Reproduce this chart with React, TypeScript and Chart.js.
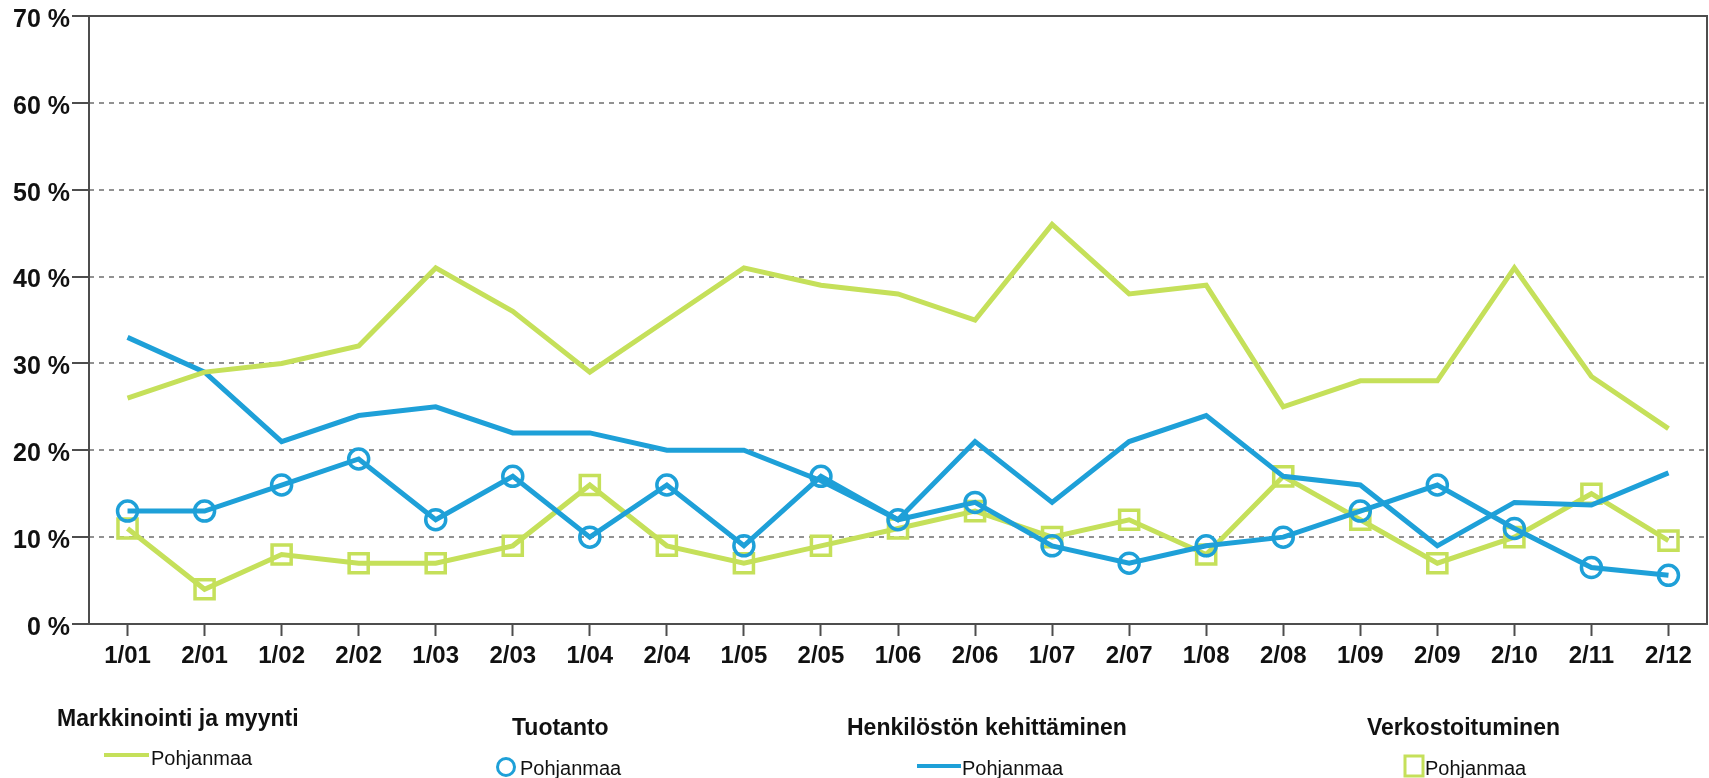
import React, { useEffect, useRef } from 'react';
import { Chart, registerables } from 'chart.js';

Chart.register(...registerables);

const categories = ['1/01', '2/01', '1/02', '2/02', '1/03', '2/03', '1/04', '2/04', '1/05', '2/05', '1/06', '2/06', '1/07', '2/07', '1/08', '2/08', '1/09', '2/09', '2/10', '2/11', '2/12'];

const markkinointi = [26, 29, 30, 32, 41, 36, 29, 35, 41, 39, 38, 35, 46, 38, 39, 25, 28, 28, 41, 28.5, 22.5];
const tuotanto = [13, 13, 16, 19, 12, 17, 10, 16, 9, 17, 12, 14, 9, 7, 9, 10, 13, 16, 11, 6.5, 5.6];
const henkilosto = [33, 29, 21, 24, 25, 22, 22, 20, 20, 16.5, 12, 21, 14, 21, 24, 17, 16, 9, 14, 13.7, 17.4];
const verkostoituminen = [11, 4, 8, 7, 7, 9, 16, 9, 7, 9, 11, 13, 10, 12, 8, 17, 12, 7, 10, 15, 9.6];

const yTicks = [0, 10, 20, 30, 40, 50, 60, 70];

const groupTitles = ['Markkinointi ja myynti', 'Tuotanto', 'Henkilöstön kehittäminen', 'Verkostoituminen'];
const itemLabel = 'Pohjanmaa';

const GREEN = '#c5e05a';
const BLUE = '#1ea0d8';
const AXIS = '#4d4d4d';
const FONT = '"Liberation Sans", Arial, sans-serif';

const toPoints = (arr: number[]) => arr.map((y, i) => ({ x: i, y }));

const framePlugin = {
  id: 'frameAndLegend',
  beforeDatasetsDraw(chart: any) {
    const { ctx, chartArea } = chart;
    ctx.save();
    ctx.strokeStyle = AXIS;
    ctx.lineWidth = 2;
    ctx.setLineDash([]);
    ctx.strokeRect(chartArea.left, chartArea.top, chartArea.right - chartArea.left, chartArea.bottom - chartArea.top);
    ctx.restore();
  },
  afterDraw(chart: any) {
    const { ctx } = chart;
    ctx.save();
    ctx.textAlign = 'left';
    ctx.textBaseline = 'alphabetic';
    ctx.fillStyle = '#111';
    ctx.font = `bold 23px ${FONT}`;
    ctx.fillText(groupTitles[0], 57, 726);
    ctx.fillText(groupTitles[1], 512, 735);
    ctx.fillText(groupTitles[2], 847, 735);
    ctx.fillText(groupTitles[3], 1367, 735);

    ctx.font = `20px ${FONT}`;
    // group 1: green line
    ctx.strokeStyle = GREEN;
    ctx.lineWidth = 4;
    ctx.beginPath();
    ctx.moveTo(104, 755);
    ctx.lineTo(149, 755);
    ctx.stroke();
    ctx.fillText(itemLabel, 151, 765);
    // group 2: blue circle
    ctx.strokeStyle = BLUE;
    ctx.lineWidth = 3;
    ctx.beginPath();
    ctx.arc(506, 767, 8.5, 0, Math.PI * 2);
    ctx.stroke();
    ctx.fillText(itemLabel, 520, 775);
    // group 3: blue line
    ctx.lineWidth = 4;
    ctx.beginPath();
    ctx.moveTo(917, 766);
    ctx.lineTo(961, 766);
    ctx.stroke();
    ctx.fillText(itemLabel, 962, 775);
    // group 4: green square
    ctx.strokeStyle = GREEN;
    ctx.lineWidth = 3;
    ctx.strokeRect(1405, 756, 18, 20);
    ctx.fillText(itemLabel, 1425, 775);
    ctx.restore();
  },
};

export default function App() {
  const canvasRef = useRef<HTMLCanvasElement | null>(null);

  useEffect(() => {
    const canvas = canvasRef.current;
    if (!canvas) return;
    const chart = new Chart(canvas, {
      type: 'line',
      data: {
        datasets: [
          { label: 'Markkinointi ja myynti', data: toPoints(markkinointi), borderColor: GREEN, borderWidth: 5, pointRadius: 0, tension: 0, fill: false },
          { label: 'Henkilöstön kehittäminen', data: toPoints(henkilosto), borderColor: BLUE, borderWidth: 5, pointRadius: 0, tension: 0, fill: false },
          {
            label: 'Tuotanto', data: toPoints(tuotanto), borderColor: BLUE, borderWidth: 5,
            pointStyle: 'circle', pointRadius: 10, pointBorderWidth: 3.5, pointBorderColor: BLUE,
            pointBackgroundColor: 'rgba(0,0,0,0)', tension: 0, fill: false,
          },
          {
            label: 'Verkostoituminen', data: toPoints(verkostoituminen), borderColor: GREEN, borderWidth: 5,
            pointStyle: 'rect', pointRadius: 13.5, pointBorderWidth: 3.5, pointBorderColor: GREEN,
            pointBackgroundColor: 'rgba(0,0,0,0)', tension: 0, fill: false,
          },
        ],
      },
      options: {
        animation: false,
        responsive: false,
        maintainAspectRatio: false,
        layout: { autoPadding: false, padding: { top: 16, right: 2, left: 0, bottom: 0 } },
        plugins: { legend: { display: false }, tooltip: { enabled: false } },
        scales: {
          x: {
            type: 'linear',
            min: -0.5,
            max: 20.5,
            border: { display: false },
            grid: { display: true, drawOnChartArea: false, drawTicks: true, tickLength: 12, tickColor: AXIS, tickWidth: 2 },
            afterBuildTicks: (scale: any) => {
              scale.ticks = categories.map((_, i) => ({ value: i }));
            },
            ticks: {
              color: '#111',
              font: { family: FONT, size: 24, weight: 'bold' },
              padding: 6,
              maxRotation: 0,
              autoSkip: false,
              callback: (v: any) => categories[Math.round(Number(v))] ?? '',
            },
            afterFit: (scale: any) => {
              scale.height = 154;
              scale.paddingLeft = 0;
              scale.paddingRight = 0;
            },
          },
          y: {
            min: 0,
            max: 70,
            border: { display: false, dash: [5, 5] },
            grid: { color: '#919191', lineWidth: 2, drawTicks: true, tickLength: 17, tickColor: AXIS, tickWidth: 2, tickBorderDash: [] },
            afterBuildTicks: (scale: any) => {
              scale.ticks = yTicks.map((v) => ({ value: v }));
            },
            ticks: {
              color: '#111',
              font: { family: FONT, size: 25, weight: 'bold' },
              padding: 2,
              labelOffset: 4,
              callback: (v: any) => `${v} %`,
            },
            afterFit: (scale: any) => {
              scale.width = 89;
              scale.paddingTop = 0;
              scale.paddingBottom = 0;
            },
          },
        },
      },
      plugins: [framePlugin],
    });
    return () => chart.destroy();
  }, []);

  return (
    <div style={{ position: 'absolute', left: 0, top: 0, width: 1709, height: 778, background: '#fff' }}>
      <canvas ref={canvasRef} width={1709} height={778} style={{ width: 1709, height: 778, display: 'block' }} />
    </div>
  );
}
